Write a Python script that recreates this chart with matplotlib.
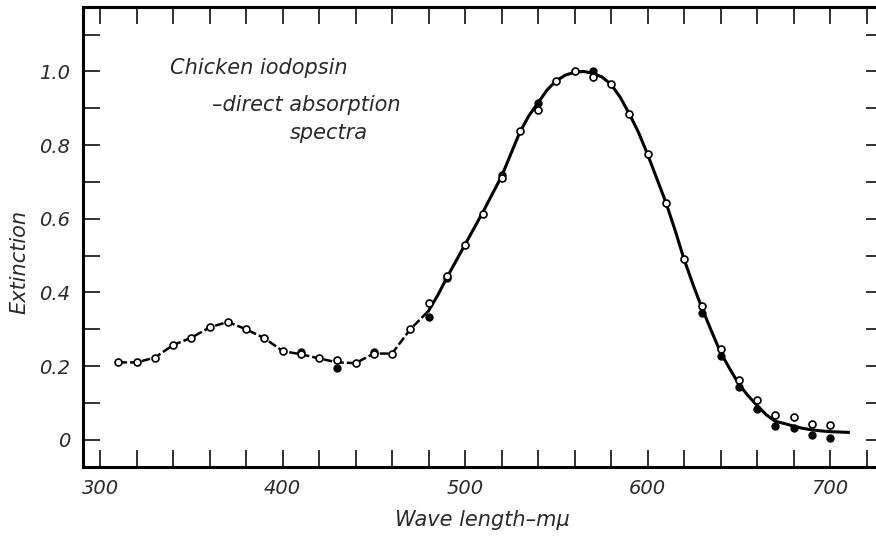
import matplotlib
matplotlib.use("Agg")
import matplotlib.pyplot as plt
from matplotlib.ticker import MultipleLocator, FixedLocator

# ---- data ----
open_wl = [310, 320, 330, 340, 350, 360, 370, 380, 390, 400, 410, 420, 430, 440,
           450, 460, 470, 480, 490, 500, 510, 520, 530, 540, 550, 560, 570, 580,
           590, 600, 610, 620, 630, 640, 650, 660, 670, 680, 690, 700]
open_ext = [0.210, 0.210, 0.223, 0.257, 0.277, 0.305, 0.320, 0.300, 0.276, 0.241,
            0.232, 0.221, 0.216, 0.208, 0.234, 0.234, 0.300, 0.372, 0.444, 0.530,
            0.614, 0.711, 0.837, 0.896, 0.973, 1.000, 0.985, 0.967, 0.885, 0.776,
            0.643, 0.490, 0.363, 0.246, 0.162, 0.108, 0.067, 0.062, 0.044, 0.040]

filled_wl = [410, 430, 450, 480, 490, 520, 540, 570, 630, 640, 650, 660, 670, 680, 690, 700]
filled_ext = [0.237, 0.196, 0.237, 0.332, 0.438, 0.720, 0.914, 1.000, 0.343, 0.228,
              0.142, 0.083, 0.038, 0.031, 0.013, 0.006]

dashed_wl = [310, 320, 330, 340, 350, 360, 370, 380, 390, 400, 410, 420, 430, 440,
             450, 460, 470, 480]
dashed_ext = [0.210, 0.210, 0.223, 0.257, 0.277, 0.305, 0.320, 0.300, 0.276, 0.241,
              0.232, 0.221, 0.210, 0.208, 0.234, 0.234, 0.300, 0.350]

curve_wl = [480, 485, 490, 495, 500, 505, 510, 515, 520, 525, 530, 535, 540, 545,
            550, 555, 560, 565, 570, 575, 580, 585, 590, 595, 600, 605, 610, 615,
            620, 625, 630, 635, 640, 645, 650, 655, 660, 665, 670, 675, 680, 685,
            690, 695, 700, 705, 710]
curve_ext = [0.350, 0.392, 0.440, 0.485, 0.530, 0.575, 0.620, 0.668, 0.715, 0.775,
             0.835, 0.880, 0.915, 0.950, 0.975, 0.990, 0.998, 1.000, 0.995, 0.985,
             0.965, 0.930, 0.885, 0.835, 0.775, 0.710, 0.645, 0.570, 0.490, 0.420,
             0.355, 0.295, 0.237, 0.193, 0.151, 0.120, 0.093, 0.068, 0.050, 0.044,
             0.037, 0.031, 0.027, 0.024, 0.022, 0.021, 0.020]

x_major = [300, 400, 500, 600, 700]
x_labels = ["300", "400", "500", "600", "700"]
y_major = [0.0, 0.2, 0.4, 0.6, 0.8, 1.0]
y_labels = ["0", "0.2", "0.4", "0.6", "0.8", "1.0"]

title_lines = ["Chicken iodopsin", "\u2013direct absorption", "spectra"]

# ---- figure ----
W, H = 876, 538
fig = plt.figure(figsize=(W / 100, H / 100), dpi=100)
left, right, top, bottom = 82.7, 883, 7, 467
ax = fig.add_axes([left / W, 1 - bottom / H, (right - left) / W, (bottom - top) / H])

txt_color = "#2a2a2a"
font = dict(family="DejaVu Sans", style="italic", color=txt_color)

ax.plot(dashed_wl, dashed_ext, color="black", lw=1.8, ls=(0, (3.5, 1.2)), zorder=2)
ax.plot(curve_wl, curve_ext, color="black", lw=2.2, zorder=2)
ax.plot(filled_wl, filled_ext, "o", color="black", ms=5.0, zorder=3)
ax.plot(open_wl, open_ext, "o", mfc="white", mec="black", mew=1.2, ms=5.0, zorder=4)

ax.set_xlim(290.5, 729)
ax.set_ylim(-0.074, 1.175)

ax.xaxis.set_major_locator(FixedLocator(x_major))
ax.set_xticklabels(x_labels)
ax.xaxis.set_minor_locator(MultipleLocator(20))
ax.yaxis.set_major_locator(FixedLocator(y_major))
ax.set_yticklabels(y_labels)
ax.yaxis.set_minor_locator(MultipleLocator(0.1))

for s in ax.spines.values():
    s.set_linewidth(2.2)
ax.tick_params(which="both", direction="in", top=True, right=True,
               width=1.3, length=12.5, color="#222222")
ax.tick_params(axis="x", which="major", pad=9, labelsize=14, labelcolor=txt_color)
ax.tick_params(axis="y", which="major", pad=9, labelsize=14, labelcolor=txt_color)
for lab in ax.get_xticklabels() + ax.get_yticklabels():
    lab.set_fontstyle("italic")

ax.set_xlabel("Wave length\u2013m\u03bc", fontsize=15, labelpad=8, **font)
ax.set_ylabel("Extinction", fontsize=15, **font)
ax.yaxis.set_label_coords(-0.066, 0.446)

ax.text(338.5, 1.01, title_lines[0], fontsize=15, ha="left", va="center", **font)
ax.text(361.5, 0.91, title_lines[1], fontsize=15, ha="left", va="center", **font)
ax.text(404, 0.834, title_lines[2], fontsize=15, ha="left", va="center", **font)

fig.savefig("out.png", dpi=100)
